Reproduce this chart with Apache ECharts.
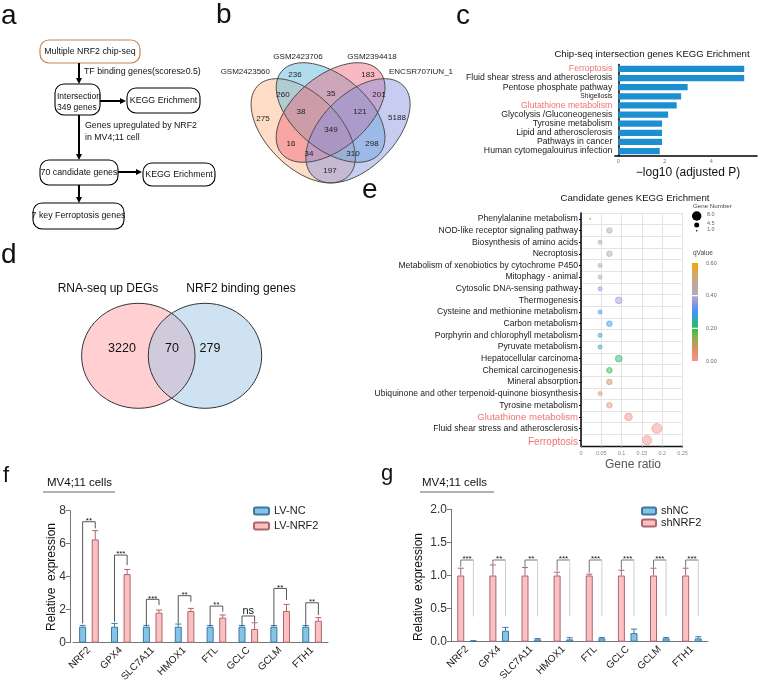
<!DOCTYPE html>
<html><head><meta charset="utf-8">
<script src="https://cdn.jsdelivr.net/npm/echarts@6/dist/echarts.min.js"></script>
<style>html,body{margin:0;padding:0;background:#fff}#c{width:764px;height:687px}</style>
</head><body><div id="c"></div>
<script>
const FONT = '"Liberation Sans", Arial, Helvetica, sans-serif';

// ---------------- data ----------------
const vennBSets = ['GSM2423560', 'GSM2423706', 'GSM2394418', 'ENCSR707IUN_1'];
const vennBCounts = [275, 236, 183, 5188, 260, 35, 201, 38, 121, 349, 16, 298, 34, 310, 197];
const vennDSets = ['RNA-seq up DEGs', 'NRF2 binding genes'];
const vennDCounts = [3220, 70, 279];

const cCats = ['Ferroptosis', 'Fluid shear stress and atherosclerosis', 'Pentose phosphate pathway', 'Shigellosis',
  'Glutathione metabolism', 'Glycolysis /Gluconeogenesis', 'Tyrosine metabolism', 'Lipid and atherosclerosis',
  'Pathways in cancer', 'Human cytomegalouirus infection'];
const cValues = [5.41, 5.41, 2.98, 2.70, 2.51, 2.14, 1.88, 1.88, 1.88, 1.78];
const cTicks = [0, 2, 4];

const eCats = ['Phenylalanine metabolism', 'NOD-like receptor signaling pathway', 'Biosynthesis of amino acids', 'Necroptosis',
  'Metabolism of xenobiotics by cytochrome P450', 'Mitophagy - animal', 'Cytosolic DNA-sensing pathway', 'Thermogenesis',
  'Cysteine and methionine metabolism', 'Carbon metabolism', 'Porphyrin and chlorophyll metabolism', 'Pyruvate metabolism',
  'Hepatocellular carcinoma', 'Chemical carcinogenesis', 'Mineral absorption',
  'Ubiquinone and other terpenoid-quinone biosynthesis', 'Tyrosine metabolism', 'Glutathione metabolism',
  'Fluid shear stress and atherosclerosis', 'Ferroptosis'];
const eRatio = [0.023, 0.070, 0.047, 0.070, 0.047, 0.047, 0.047, 0.093, 0.047, 0.070, 0.047, 0.047, 0.093, 0.070, 0.070, 0.047, 0.070, 0.117, 0.187, 0.163];
const eCount = [1, 3, 2, 3, 2, 2, 2, 4, 2, 3, 2, 2, 4, 3, 3, 2, 3, 5, 8, 7];
const eQ = [0.58, 0.46, 0.45, 0.46, 0.45, 0.42, 0.35, 0.37, 0.30, 0.30, 0.26, 0.26, 0.22, 0.20, 0.09, 0.06, 0.03, 0.01, 0.005, 0.005];
const qTicks = [0.60, 0.40, 0.20, 0.00];
const sizeLegend = [8.0, 4.5, 1.0];

const genes = ['NRF2', 'GPX4', 'SLC7A11', 'HMOX1', 'FTL', 'GCLC', 'GCLM', 'FTH1'];
const fNC = [0.97, 0.97, 0.97, 0.97, 0.97, 0.97, 0.97, 0.97];
const fNCErr = [0.08, 0.20, 0.08, 0.16, 0.07, 0.07, 0.07, 0.07];
const fNRF2 = [6.26, 4.16, 1.82, 1.92, 1.52, 0.83, 1.92, 1.33];
const fNRF2Err = [0.53, 0.28, 0.16, 0.16, 0.16, 0.38, 0.40, 0.19];
const fBrTop = [7.33, 5.31, 2.63, 2.85, 2.22, 1.62, 3.29, 2.42];
const fBrLeft = [1.17, 1.27, 1.07, 1.17, 1.03, 1.03, 1.03, 1.03];
const fBrRight = [6.93, 4.70, 2.28, 2.48, 1.88, 1.27, 2.59, 1.68];
const fSig = ['**', '***', '***', '**', '**', 'ns', '**', '**'];

const gShNRF2 = [1, 1, 1, 1, 1, 1, 1, 1];
const gShNRF2Err = [0.11, 0.16, 0.12, 0.05, 0.02, 0.08, 0.11, 0.11];
const gShNC = [0.008, 0.166, 0.035, 0.035, 0.05, 0.13, 0.05, 0.05];
const gShNCErr = [0.008, 0.05, 0.012, 0.025, 0.012, 0.06, 0.012, 0.025];
const gBrTop = [1.234, 1.234, 1.234, 1.234, 1.234, 1.234, 1.234, 1.234];
const gBrLeft = [1.13, 1.17, 1.13, 1.07, 1.04, 1.09, 1.12, 1.12];
const gBrRight = [0.38, 0.38, 0.38, 0.38, 0.38, 0.38, 0.38, 0.38];
const gSig = ['***', '**', '**', '***', '***', '***', '***', '***'];

// ---------------- styles / helpers ----------------
const BLUE = '#84c4e6', BLUE_E = '#3c78a2', PINK = '#fbc0c2', PINK_E = '#ad666c';
const RED_TXT = '#f07272';
const qStops = [[0, '#f49494'], [0.05, '#e8906c'], [0.10, '#c49a58'], [0.15, '#88b04c'], [0.20, '#28c050'],
  [0.25, '#38a8b0'], [0.30, '#4494f4'], [0.35, '#8a94e4'], [0.40, '#b0acc4'], [0.45, '#bca8a4'],
  [0.50, '#c8a68c'], [0.55, '#e0a454'], [0.60, '#f8a400']];
function hx(h) { return [1, 3, 5].map(i => parseInt(h.slice(i, i + 2), 16)); }
function qColor(q, a) {
  let k = 0;
  while (k < qStops.length - 2 && q > qStops[k + 1][0]) k++;
  const [q0, c0] = qStops[k], [q1, c1] = qStops[k + 1];
  const t = Math.max(0, Math.min(1, (q - q0) / (q1 - q0)));
  const A = hx(c0), B = hx(c1);
  const c = A.map((v, i) => Math.round(v + (B[i] - v) * t));
  return `rgba(${c[0]},${c[1]},${c[2]},${a})`;
}
function bubble(n) { const a = 1.5, b = 10; return Math.sqrt(a * a + (n - 1) / 7 * (b * b - a * a)); }

const G = [];
function T(x, y, text, o) {
  const st = Object.assign({ text: String(text), fontFamily: FONT, fontSize: 9, fill: '#111',
    textAlign: 'left', textVerticalAlign: 'middle' }, o || {});
  st.align = st.textAlign; st.verticalAlign = st.textVerticalAlign;
  const el = { type: 'text', x: x, y: y, silent: true, style: st };
  if (o && o.rotation) { el.rotation = o.rotation; }
  G.push(el);
}
function L(x1, y1, x2, y2, col, w) {
  G.push({ type: 'line', silent: true, shape: { x1, y1, x2, y2 }, style: { stroke: col || '#000', lineWidth: w || 1 } });
}
function R(x, y, w, h, r, stroke, lw) {
  G.push({ type: 'rect', silent: true, shape: { x, y, width: w, height: h, r }, style: { fill: '#fff', stroke, lineWidth: lw || 1.1 } });
}
function arrow(x1, y1, x2, y2) {
  const dx = x2 - x1, dy = y2 - y1, len = Math.hypot(dx, dy), ux = dx / len, uy = dy / len;
  const hl = 6, hw = 3;
  L(x1, y1, x2 - ux * hl, y2 - uy * hl, '#000', 2);
  G.push({ type: 'polygon', silent: true, shape: { points: [[x2, y2], [x2 - ux * hl - uy * hw, y2 - uy * hl + ux * hw], [x2 - ux * hl + uy * hw, y2 - uy * hl - ux * hw]] }, style: { fill: '#000' } });
}

// panel letters
T(1, 16, 'a', { fontSize: 28 });
T(216, 15.5, 'b', { fontSize: 28 });
T(456, 16, 'c', { fontSize: 28 });
T(1, 255.5, 'd', { fontSize: 28 });
T(362, 190.5, 'e', { fontSize: 28 });
T(3, 476, 'f', { fontSize: 22 });
T(381, 474, 'g', { fontSize: 22 });

// ---- panel a: flowchart ----
R(40, 40, 100, 23, 9, '#c8824f', 1.2);
T(90, 51.5, 'Multiple NRF2 chip-seq', { textAlign: 'center', fontSize: 8.8 });
arrow(79, 63, 79, 84);
T(84, 72, 'TF binding genes(scores\u22650.5)', { fontSize: 8.8 });
R(55, 84, 45, 31, 9, '#000');
T(57, 96.5, 'Intersection', { fontSize: 8.5 });
T(57, 108, '349 genes', { fontSize: 8.5 });
arrow(100, 101, 126, 101);
R(127, 88, 73, 25, 9, '#000');
T(163.5, 100.5, 'KEGG Erichment', { textAlign: 'center', fontSize: 8.8 });
arrow(79, 115, 79, 160);
T(85, 126, 'Genes upregulated by NRF2', { fontSize: 8.8 });
T(85, 138, 'in MV4;11 cell', { fontSize: 8.8 });
R(40, 160, 78, 25, 9, '#000');
T(79, 172.5, '70 candidate genes', { textAlign: 'center', fontSize: 8.8 });
arrow(118, 172, 142, 172);
R(143, 163, 72, 23, 9, '#000');
T(179, 174.5, 'KEGG Erichment', { textAlign: 'center', fontSize: 8.8 });
arrow(79, 185, 79, 203);
R(33, 203, 91, 26, 9, '#000');
T(78.5, 216, '7 key Ferroptosis genes', { textAlign: 'center', fontSize: 8.8 });

// ---- panel b: 4-set venn ----
const vennBShapes = [
  { cx: 303.2, cy: 130.8, rot: -Math.PI / 4, fill: 'rgba(252,178,128,0.45)' },
  { cx: 330.6, cy: 112.5, rot: -40 * Math.PI / 180, fill: 'rgba(100,186,222,0.5)' },
  { cx: 330.6, cy: 112.5, rot: 40 * Math.PI / 180, fill: 'rgba(240,100,120,0.45)' },
  { cx: 358.0, cy: 130.8, rot: Math.PI / 4, fill: 'rgba(130,142,225,0.45)' }
];
vennBShapes.forEach(s => G.push({ type: 'ellipse', silent: true, x: s.cx, y: s.cy, rotation: s.rot,
  shape: { cx: 0, cy: 0, rx: 64, ry: 36.6 }, style: { fill: s.fill, stroke: 'none' } }));
vennBShapes.forEach(s => G.push({ type: 'ellipse', silent: true, x: s.cx, y: s.cy, rotation: s.rot,
  shape: { cx: 0, cy: 0, rx: 64, ry: 36.6 }, style: { fill: 'none', stroke: '#4a4a4a', lineWidth: 0.9 } }));
const vennBPos = [[263, 119], [295, 75], [368, 75], [397, 118], [283, 95], [331, 94], [379, 95], [301, 112], [360, 112],
  [331, 130], [291, 144], [372, 144], [309, 154], [353, 154], [330, 171]];
vennBCounts.forEach((v, i) => T(vennBPos[i][0], vennBPos[i][1], v, { textAlign: 'center', fontSize: 8, fill: '#222' }));
T(270, 72, vennBSets[0], { textAlign: 'right', fontSize: 8, fill: '#222' });
T(298, 57, vennBSets[1], { textAlign: 'center', fontSize: 8, fill: '#222' });
T(372, 57, vennBSets[2], { textAlign: 'center', fontSize: 8, fill: '#222' });
T(389, 72, vennBSets[3], { textAlign: 'left', fontSize: 8, fill: '#222' });

// ---- panel d: 2-set venn ----
G.push({ type: 'ellipse', silent: true, shape: { cx: 138.3, cy: 355.8, rx: 56.7, ry: 52.5 }, style: { fill: 'rgba(255,160,166,0.5)', stroke: 'none' } });
G.push({ type: 'ellipse', silent: true, shape: { cx: 205, cy: 355.8, rx: 56.7, ry: 52.5 }, style: { fill: 'rgba(160,198,230,0.5)', stroke: 'none' } });
G.push({ type: 'ellipse', silent: true, shape: { cx: 138.3, cy: 355.8, rx: 56.7, ry: 52.5 }, style: { fill: 'none', stroke: '#333', lineWidth: 1 } });
G.push({ type: 'ellipse', silent: true, shape: { cx: 205, cy: 355.8, rx: 56.7, ry: 52.5 }, style: { fill: 'none', stroke: '#333', lineWidth: 1 } });
T(108, 289, vennDSets[0], { textAlign: 'center', fontSize: 12 });
T(241, 289, vennDSets[1], { textAlign: 'center', fontSize: 12 });
T(122, 349, vennDCounts[0], { textAlign: 'center', fontSize: 12.5 });
T(172, 349, vennDCounts[1], { textAlign: 'center', fontSize: 12.5 });
T(210, 349, vennDCounts[2], { textAlign: 'center', fontSize: 12.5 });

// ---- panel c titles ----
T(652, 54, 'Chip-seq intersection genes KEGG Erichment', { textAlign: 'center', fontSize: 9.6 });
T(688, 173, '\u2212log10 (adjusted P)', { textAlign: 'center', fontSize: 12 });
L(614.3, 156, 618.3, 156, '#000', 1.5);

// ---- panel e titles & legends ----
T(635, 198, 'Candidate genes KEGG Erichment', { textAlign: 'center', fontSize: 9.6 });
T(633, 465, 'Gene ratio', { textAlign: 'center', fontSize: 12, fill: '#555' });
T(693, 206, 'Gene Number', { fontSize: 6.2, fill: '#444' });
const sizeLegY = [216, 225, 230.7], sizeLegD = [9.5, 5, 1.6];
sizeLegend.forEach((v, i) => {
  G.push({ type: 'circle', silent: true, shape: { cx: 696.7, cy: sizeLegY[i], r: sizeLegD[i] / 2 }, style: { fill: '#000' } });
  T(707, sizeLegY[i] - 1.5, v.toFixed(1), { fontSize: 5.5, fill: '#666' });
});
T(693, 253, 'qValue', { fontSize: 6.5, fill: '#444' });
const cbX = 692, cbY = 263, cbW = 6, cbH = 98;
G.push({ type: 'rect', silent: true, shape: { x: cbX, y: cbY, width: cbW, height: cbH },
  style: { fill: { type: 'linear', x: 0, y: 0, x2: 0, y2: 1, colorStops: qStops.map(s => ({ offset: (0.6 - s[0]) / 0.6, color: s[1] })) } } });
qTicks.forEach(q => {
  const y = cbY + (0.6 - q) / 0.6 * cbH;
  if (q > 0 && q < 0.6) L(cbX, y, cbX + cbW, y, '#fff', 1.2);
  T(706, y, q.toFixed(2), { fontSize: 5.5, fill: '#666' });
});

// ---- panel f / g decorations ----
T(47, 483, 'MV4;11 cells', { fontSize: 11.5 });
L(43, 492, 115, 492, '#666', 1);
T(422, 483, 'MV4;11 cells', { fontSize: 11.5 });
L(420, 492, 494, 492, '#666', 1);
T(52, 577, 'Relative  expression', { textAlign: 'center', fontSize: 12, rotation: Math.PI / 2 });
T(419, 587, 'Relative  expression', { textAlign: 'center', fontSize: 12, rotation: Math.PI / 2 });

// ---------------- series helpers ----------------
const OFF = 6.3;
function errSeries(ai, vals, errs, off, col) {
  return { type: 'custom', xAxisIndex: ai, yAxisIndex: ai, silent: true, z: 5,
    data: vals.map((v, i) => [i, v, errs[i]]),
    renderItem: (p, api) => {
      const i = api.value(0), v = api.value(1), e = api.value(2);
      const a = api.coord([i, v]), b = api.coord([i, v + e]);
      const x = a[0] + off;
      return { type: 'group', children: [
        { type: 'line', shape: { x1: x, y1: a[1], x2: x, y2: b[1] }, style: { stroke: col, lineWidth: 1 } },
        { type: 'line', shape: { x1: x - 3, y1: b[1], x2: x + 3, y2: b[1] }, style: { stroke: col, lineWidth: 1 } }] };
    } };
}
function bracketSeries(ai, top, lb, rb, sig, colL, colR) {
  return { type: 'custom', xAxisIndex: ai, yAxisIndex: ai, silent: true, z: 6,
    data: top.map((v, i) => [i, v, lb[i], rb[i]]),
    renderItem: (p, api) => {
      const i = api.value(0);
      const t = api.coord([i, api.value(1)]);
      const yl = api.coord([i, api.value(2)])[1], yr = api.coord([i, api.value(3)])[1];
      const xl = t[0] - OFF, xr = t[0] + OFF;
      const s = sig[p.dataIndex];
      const isNs = s === 'ns';
      return { type: 'group', children: [
        { type: 'polyline', shape: { points: [[xl, yl], [xl, t[1]], [xr, t[1]]] }, style: { stroke: colL, lineWidth: 1, fill: 'none' } },
        { type: 'line', shape: { x1: xr, y1: t[1], x2: xr, y2: yr }, style: { stroke: colR, lineWidth: 1 } },
        { type: 'text', x: (xl + xr) / 2, y: isNs ? t[1] - 5 : t[1] - 1,
          style: { text: s, fontFamily: FONT, fontSize: isNs ? 11 : 8, fill: '#111', align: 'center', verticalAlign: 'middle', textAlign: 'center', textVerticalAlign: 'middle' } }] };
    } };
}

const option = {
  animation: false,
  backgroundColor: '#fff',
  textStyle: { fontFamily: FONT },
  graphic: { elements: G },
  legend: [
    { data: ['LV-NC', 'LV-NRF2'], orient: 'vertical', left: 248, top: 500.5, itemWidth: 15, itemHeight: 7, itemGap: 4,
      textStyle: { fontSize: 11, color: '#222', fontFamily: FONT } },
    { data: ['shNC', 'shNRF2'], orient: 'vertical', left: 636, top: 500.5, itemWidth: 14, itemHeight: 7, itemGap: 1,
      textStyle: { fontSize: 11, color: '#222', fontFamily: FONT } }
  ],
  grid: [
    { left: 618.3, top: 64.4, width: 138.7, height: 91.2 },
    { left: 581, top: 213, width: 101.5, height: 233 },
    { left: 73, top: 510.7, width: 255, height: 132 },
    { left: 451, top: 509.3, width: 257, height: 132.4 }
  ],
  xAxis: [
    { gridIndex: 0, type: 'value', min: 0, max: 5.96,
      axisLine: { show: true, lineStyle: { color: '#000', width: 1.5 } }, axisTick: { show: false }, splitLine: { show: false },
      axisLabel: { customValues: cTicks, fontSize: 5.5, color: '#777', margin: 3, fontFamily: FONT } },
    { gridIndex: 1, type: 'value', min: 0, max: 0.25, interval: 0.05,
      axisLine: { show: true, lineStyle: { color: '#111', width: 1.3 } },
      axisTick: { show: true, length: 2, lineStyle: { color: '#888' } },
      splitLine: { show: true, lineStyle: { color: '#e4e4e4', width: 1 } },
      axisLabel: { fontSize: 5.5, color: '#888', margin: 4, fontFamily: FONT, formatter: v => String(+v.toFixed(2)) } },
    { gridIndex: 2, type: 'category', data: genes,
      axisLine: { lineStyle: { color: '#777', width: 1 } },
      axisTick: { alignWithLabel: true, length: 4, lineStyle: { color: '#777' } },
      axisLabel: { rotate: 45, fontSize: 10, color: '#222', margin: 6, interval: 0, fontFamily: FONT } },
    { gridIndex: 3, type: 'category', data: genes,
      axisLine: { lineStyle: { color: '#777', width: 1 } },
      axisTick: { alignWithLabel: true, length: 4, lineStyle: { color: '#777' } },
      axisLabel: { rotate: 45, fontSize: 10, color: '#222', margin: 6, interval: 0, fontFamily: FONT } }
  ],
  yAxis: [
    { gridIndex: 0, type: 'category', data: cCats, inverse: true, offset: 4,
      axisLine: { show: true, lineStyle: { color: '#000', width: 1.5 } }, axisTick: { show: false },
      axisLabel: { fontSize: 8.7, color: '#1a1a1a', margin: 2, interval: 0, fontFamily: FONT,
        formatter: v => (v === 'Ferroptosis' || v === 'Glutathione metabolism') ? `{r|${v}}` : (v === 'Shigellosis' ? `{s|${v}}` : v),
        rich: { r: { color: RED_TXT, fontSize: 8.7, fontFamily: FONT }, s: { fontSize: 6.7, color: '#1a1a1a', fontFamily: FONT } } } },
    { gridIndex: 1, type: 'category', data: eCats, inverse: true,
      axisLine: { show: true, lineStyle: { color: '#000', width: 1.5 } },
      axisTick: { show: true, alignWithLabel: true, length: 2, lineStyle: { color: '#000' } },
      splitLine: { show: true, lineStyle: { color: '#e4e4e4', width: 1 } },
      axisLabel: { fontSize: 8.6, color: '#1a1a1a', margin: 3, interval: 0, fontFamily: FONT,
        formatter: v => v === 'Ferroptosis' ? `{f|${v}}` : (v === 'Glutathione metabolism' ? `{r|${v}}` : v),
        rich: { r: { color: RED_TXT, fontSize: 9.6, fontFamily: FONT }, f: { color: RED_TXT, fontSize: 10, fontFamily: FONT, padding: [5, 0, 0, 0] } } } },
    { gridIndex: 2, type: 'value', min: 0, max: 8, interval: 2, offset: 3,
      axisLine: { show: true, lineStyle: { color: '#777', width: 1 } },
      axisTick: { show: true, length: 4, lineStyle: { color: '#777' } }, splitLine: { show: false },
      axisLabel: { fontSize: 12, color: '#333', margin: 4, fontFamily: FONT } },
    { gridIndex: 3, type: 'value', min: 0, max: 2, interval: 0.5,
      axisLine: { show: true, lineStyle: { color: '#777', width: 1 } },
      axisTick: { show: true, length: 4, lineStyle: { color: '#777' } }, splitLine: { show: false },
      axisLabel: { fontSize: 12, color: '#333', margin: 4, fontFamily: FONT, formatter: v => v.toFixed(1) } }
  ],
  series: [
    { type: 'bar', xAxisIndex: 0, yAxisIndex: 0, data: cValues, barWidth: 6.3, itemStyle: { color: '#1b8fd1' }, silent: true },
    { type: 'scatter', xAxisIndex: 1, yAxisIndex: 1, silent: true, z: 4,
      data: eCats.map((c, i) => ({ value: [eRatio[i], i, eCount[i], eQ[i]], symbolSize: bubble(eCount[i]),
        itemStyle: { color: qColor(eQ[i], 0.6), borderColor: qColor(eQ[i], 1), borderWidth: 0.8 } })) },
    { name: 'LV-NC', type: 'bar', xAxisIndex: 2, yAxisIndex: 2, data: fNC, barWidth: 7, barGap: '80%',
      itemStyle: { color: BLUE, borderColor: BLUE_E, borderWidth: 1 }, silent: true },
    { name: 'LV-NRF2', type: 'bar', xAxisIndex: 2, yAxisIndex: 2, data: fNRF2, barWidth: 7, barGap: '80%',
      itemStyle: { color: PINK, borderColor: PINK_E, borderWidth: 1 }, silent: true },
    errSeries(2, fNC, fNCErr, -OFF, BLUE_E),
    errSeries(2, fNRF2, fNRF2Err, OFF, PINK_E),
    bracketSeries(2, fBrTop, fBrLeft, fBrRight, fSig, '#555', '#555'),
    { name: 'shNRF2', type: 'bar', xAxisIndex: 3, yAxisIndex: 3, data: gShNRF2, barWidth: 7, barGap: '80%',
      itemStyle: { color: PINK, borderColor: PINK_E, borderWidth: 1 }, silent: true },
    { name: 'shNC', type: 'bar', xAxisIndex: 3, yAxisIndex: 3, data: gShNC, barWidth: 7, barGap: '80%',
      itemStyle: { color: BLUE, borderColor: BLUE_E, borderWidth: 1 }, silent: true },
    errSeries(3, gShNRF2, gShNRF2Err, -OFF, PINK_E),
    errSeries(3, gShNC, gShNCErr, OFF, BLUE_E),
    bracketSeries(3, gBrTop, gBrLeft, gBrRight, gSig, '#777', '#cfcfcf')
  ]
};
const chart = echarts.init(document.getElementById('c'));
chart.setOption(option);
</script>
</body></html>
